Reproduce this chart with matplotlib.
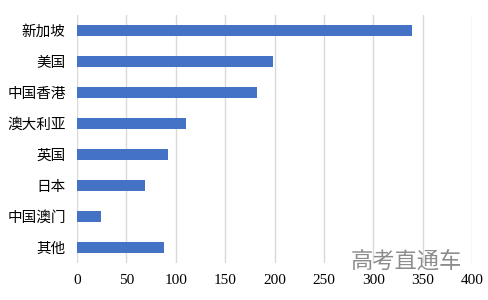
import numpy as np
import matplotlib.pyplot as plt

plt.rcParams['font.family'] = ['Noto Sans CJK SC', 'DejaVu Sans']

regions = ['新加坡', '美国', '中国香港', '澳大利亚', '英国', '日本', '中国澳门', '其他']
values = [339, 198, 182, 110, 92, 69, 24, 88]
xticks = [0, 50, 100, 150, 200, 250, 300, 350, 400]

fig = plt.figure(figsize=(4.89, 3.0), dpi=100)
ax = fig.add_axes([0.157, 0.1233, 0.809, 0.8267])

y = np.arange(len(regions))
ax.barh(y, values, height=0.35, color='#4472c4', zorder=3)
ax.set_yticks(y)
ax.set_yticklabels(regions, fontsize=10.5)
ax.set_ylim(len(regions) - 0.5, -0.5)

ax.set_xlim(0, 400)
ax.set_xticks(xticks)
ax.set_xticklabels([str(t) for t in xticks], family='Liberation Serif', fontsize=11)
ax.grid(axis='x', color='#d9d9d9', linewidth=1, zorder=0)
for s in ax.spines.values():
    s.set_visible(False)
ax.tick_params(axis='both', length=0)
ax.tick_params(axis='y', pad=8)
ax.tick_params(axis='x', pad=8)

fig.text(0.718, 0.108, '高考直通车', fontsize=16, color='#8c8c8c', zorder=5)

fig.savefig('out.png', dpi=100)
